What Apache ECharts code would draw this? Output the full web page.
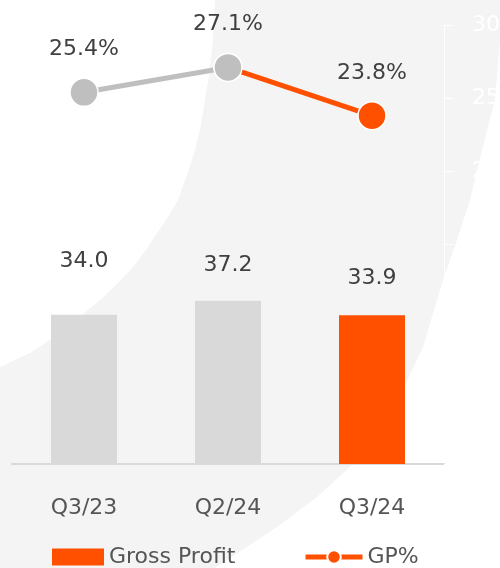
<!DOCTYPE html>
<html>
<head>
<meta charset="utf-8">
<script src="https://cdn.jsdelivr.net/npm/echarts@6/dist/echarts.min.js"></script>
<style>
  html, body { margin: 0; padding: 0; background: #fff; }
  #box { width: 500px; height: 568px; }
</style>
</head>
<body>
<div id="box"></div>
<script>
// data
const categories = ['Q3/23', 'Q2/24', 'Q3/24'];
const grossProfit = [34.0, 37.2, 33.9];
const gpPercent = [25.4, 27.1, 23.8];
const gpTicks = [0, 30, 5]; // min, max, interval of right axis

const ORANGE = '#ff5000';
const GREY_BAR = '#d9d9d9';
const GREY_LINE = '#bfbfbf';
const TEXT = '#404040';
const FONT = 'DejaVu Sans';

// bar labels sit a bit higher than default in the original
const barLabelLift = [-37, -19, -21];

const myChart = echarts.init(document.getElementById('box'));

// light grey swoosh behind the chart
const swoosh = [
  [215, 0], [500, 0], [500, 40], [495, 100], [482, 150], [470, 200], [457, 240],
  [443, 280], [423, 347], [405, 385], [383, 420], [350, 467], [317, 497],
  [277, 527], [215, 568], [0, 568], [0, 367], [30, 353], [50, 340], [75, 321], [100, 300],
  [118, 283], [133, 267], [146, 250], [157, 233], [168, 217], [178, 200], [187, 175],
  [195, 150], [201, 125], [205, 100], [209, 75], [212, 50], [214, 25]
];

const barData = grossProfit.map((v, i) => ({
  value: v,
  itemStyle: { color: i === grossProfit.length - 1 ? ORANGE : GREY_BAR },
  label: { offset: [0, barLabelLift[i]] }
}));

// grey part of the line: all but the last point
const greyLine = gpPercent.map((v, i) => (i < gpPercent.length - 1 ? v : '-'));
// orange part: last two points, the joint point stays grey
const orangeLine = gpPercent.map((v, i) => {
  if (i < gpPercent.length - 2) return '-';
  if (i === gpPercent.length - 2) return { value: v, itemStyle: { color: GREY_LINE }, label: { show: false } };
  return v;
});

const legendText = { fontSize: 22, color: '#555', fontFamily: FONT, padding: [0, 0, 0, 0] };

const option = {
  animation: false,
  textStyle: { fontFamily: FONT },
  graphic: [
    {
      type: 'polygon',
      z: -10,
      silent: true,
      shape: { points: swoosh },
      style: { fill: '#f4f4f4' }
    }
  ],
  legend: [
    {
      left: 52,
      top: 546,
      padding: 0,
      itemGap: 5,
      itemWidth: 52,
      itemHeight: 17,
      textStyle: legendText,
      data: [{ name: 'Gross Profit', icon: 'rect' }]
    },
    {
      left: 303,
      top: 546,
      padding: 0,
      itemWidth: 57,
      itemHeight: 17,
      lineStyle: { width: 5 },
      textStyle: legendText,
      data: [{ name: 'GP%' }]
    }
  ],
  grid: { left: 12, right: 56, top: 25, bottom: 104, containLabel: false, outerBoundsMode: 'none' },
  xAxis: {
    type: 'category',
    data: categories,
    axisLine: { lineStyle: { color: '#d9d9d9', width: 2 } },
    axisTick: { show: false },
    axisLabel: { fontSize: 22, color: '#555', margin: 33, fontFamily: FONT }
  },
  yAxis: [
    { type: 'value', min: 0, max: 100, show: false },
    {
      type: 'value',
      position: 'right',
      min: gpTicks[0],
      max: gpTicks[1],
      interval: gpTicks[2],
      splitLine: { show: false },
      axisLine: { show: true, lineStyle: { color: '#ffffff', width: 1 } },
      axisTick: { show: true, length: 9, lineStyle: { color: '#ffffff' } },
      axisLabel: { fontSize: 22, color: '#ffffff', margin: 28, fontFamily: FONT,
        formatter: v => (v >= 20 ? v : '') }
    }
  ],
  series: [
    {
      name: 'Gross Profit',
      type: 'bar',
      yAxisIndex: 0,
      barWidth: 66,
      color: ORANGE,
      data: barData,
      label: {
        show: true,
        position: 'top',
        fontSize: 22,
        color: TEXT,
        fontFamily: FONT,
        formatter: p => p.value.toFixed(1)
      }
    },
    {
      name: 'GP%',
      type: 'line',
      yAxisIndex: 1,
      color: ORANGE,
      symbol: 'circle',
      symbolSize: 28,
      lineStyle: { width: 5, color: ORANGE },
      itemStyle: { color: ORANGE, borderColor: '#fff', borderWidth: 1.5 },
      label: { show: true, position: 'top', distance: 17, fontSize: 22, color: TEXT,
        fontFamily: FONT, formatter: p => p.value.toFixed(1) + '%' },
      data: orangeLine,
      z: 3
    },
    {
      name: 'GP% base',
      type: 'line',
      yAxisIndex: 1,
      color: GREY_LINE,
      symbol: 'circle',
      symbolSize: 28,
      lineStyle: { width: 5, color: GREY_LINE },
      itemStyle: { color: GREY_LINE, borderColor: '#fff', borderWidth: 1.5 },
      label: { show: true, position: 'top', distance: 17, fontSize: 22, color: TEXT,
        fontFamily: FONT, formatter: p => p.value.toFixed(1) + '%' },
      data: greyLine,
      z: 2
    }
  ]
};

myChart.setOption(option);
</script>
</body>
</html>
